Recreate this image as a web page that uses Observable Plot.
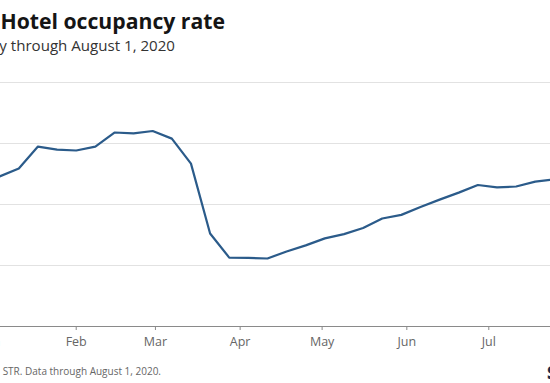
<!DOCTYPE html>
<html>
<head>
<meta charset="utf-8">
<script src="https://cdn.jsdelivr.net/npm/d3@7"></script>
<script src="https://cdn.jsdelivr.net/npm/@observablehq/plot@0.6"></script>
<style>
  html, body { margin: 0; padding: 0; background: #fff; }
  body { width: 550px; height: 383px; overflow: hidden; position: relative; font-family: "Open Sans", Lato, sans-serif; }
  .t { position: absolute; white-space: nowrap; }
  #title { right: 325px; top: 10px; font-size: 21.2px; line-height: 21px; font-weight: 700; color: #151515; }
  #subtitle { right: 375px; top: 38px; font-size: 15.1px; line-height: 15px; color: #333; }
  #caption { right: 389px; top: 366px; font-size: 10px; line-height: 10px; color: #666; }
  #logo { left: 547px; top: 364px; font-size: 17px; line-height: 17px; font-weight: 800; color: #1b2a4a; }
  #chart { position: absolute; left: -54px; top: 62px; width: 637px; }
  #chart svg { max-width: none !important; }
</style>
</head>
<body>
<div id="title" class="t">U.S. Hotel occupancy rate</div>
<div id="subtitle" class="t">Weekly through August 1, 2020</div>
<div id="chart"></div>
<div id="caption" class="t">Source: STR. Data through August 1, 2020.</div>
<div id="logo" class="t">S</div>
<script>
// Week ending dates (2020)
const weeks = [
  "2020-01-04","2020-01-11","2020-01-18","2020-01-25",
  "2020-02-01","2020-02-08","2020-02-15","2020-02-22","2020-02-29",
  "2020-03-07","2020-03-14","2020-03-21","2020-03-28",
  "2020-04-04","2020-04-11","2020-04-18","2020-04-25",
  "2020-05-02","2020-05-09","2020-05-16","2020-05-23","2020-05-30",
  "2020-06-06","2020-06-13","2020-06-20","2020-06-27",
  "2020-07-04","2020-07-11","2020-07-18","2020-07-25","2020-08-01"
];
// Occupancy rate, percent
const occupancy = [
  49.2, 51.8, 59.0, 58.0,
  57.7, 59.0, 63.6, 63.3, 64.1,
  61.6, 53.4, 30.5, 22.6,
  22.5, 22.3, 24.6, 26.6,
  28.9, 30.3, 32.3, 35.4, 36.6,
  39.2, 41.6, 43.9, 46.4,
  45.6, 45.9, 47.5, 48.2, 48.6
];
const gridTicks = [20, 40, 60, 80];
const xDomain = ["2020-01-01", "2020-08-01"];

const data = weeks.map((w, i) => ({date: new Date(w + "T00:00:00Z"), value: occupancy[i]}));

const chart = Plot.plot({
  width: 637,
  height: 294,
  marginTop: 20,
  marginBottom: 30,
  marginLeft: 45,
  marginRight: 10,
  style: {fontFamily: "'Open Sans', Lato, sans-serif", fontSize: "12.5px", color: "#666", background: "#fff", maxWidth: "none"},
  x: {type: "utc", domain: xDomain.map(d => new Date(d + "T00:00:00Z"))},
  y: {domain: [0, 80], axis: null},
  marks: [
    Plot.gridY(gridTicks, {stroke: "#e2e2e2", strokeOpacity: 1, strokeWidth: 1}),
    Plot.ruleY([0], {stroke: "#8a8a8a", strokeWidth: 1}),
    Plot.axisX({ticks: d3.utcMonth.every(1), tickFormat: d3.utcFormat("%b"), tickSize: 4, tickPadding: 7, stroke: "#8a8a8a", fill: "#666", label: null}),
    Plot.line(data, {x: "date", y: "value", stroke: "#2b5b8a", strokeWidth: 2.2, strokeLinejoin: "round"})
  ]
});
document.getElementById("chart").appendChild(chart);
</script>
</body>
</html>
